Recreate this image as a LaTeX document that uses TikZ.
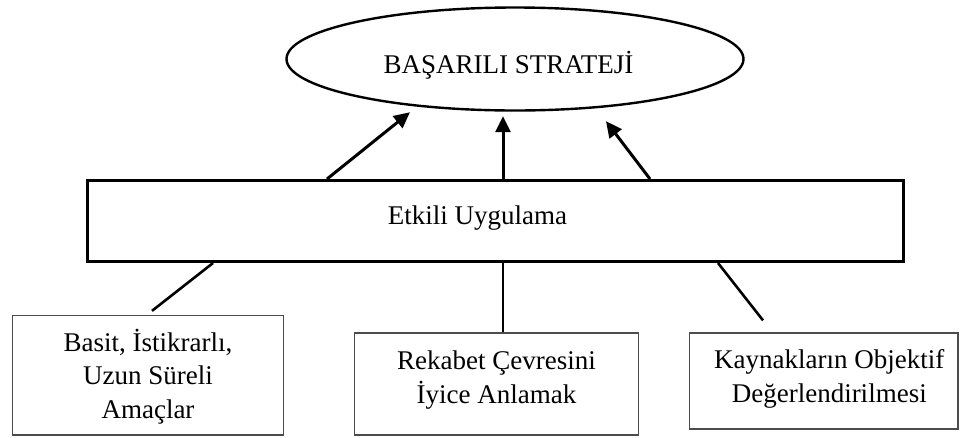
\documentclass[tikz,border=0pt]{standalone}
\usepackage{fontspec}
\setmainfont{Liberation Serif}
\usetikzlibrary{arrows.meta,shapes.geometric}
\begin{document}
\begin{tikzpicture}[x=1pt,y=-1pt,
  every node/.style={font=\fontsize{27}{33.5}\selectfont, inner sep=0pt},
  goal/.style={ellipse, draw, line width=2.4pt, minimum width=457pt, minimum height=103pt, text height=28pt, text depth=0pt},
  mainbox/.style={rectangle, draw, line width=3pt, minimum width=816pt, minimum height=81pt, text height=18pt, text depth=12pt},
  factor/.style={rectangle, draw=black!70, line width=1.3pt},
  arr/.style={line width=3pt, -{Triangle[length=16pt,width=15pt]}},
  link/.style={line width=2.6pt}]
\useasboundingbox (0,0) rectangle (960,437);

\node[goal] (goal) at (515,59) {BAŞARILI STRATEJİ\hspace*{13pt}};
\node[mainbox] (impl) at (495.5,221) {Etkili Uygulama\hspace*{36pt}};

\node[factor, minimum width=271pt, minimum height=119.5pt] (f1) at (148,375.25)
  {\raisebox{0pt}[86pt][0pt]{\begin{tabular}[b]{@{}c@{}}Basit, İstikrarlı,\\Uzun Süreli\\Amaçlar\end{tabular}}};
\node[factor, minimum width=284pt, minimum height=102pt] (f2) at (496.5,384)
  {\raisebox{0pt}[38pt][0pt]{\begin{tabular}[b]{@{}c@{}}Rekabet Çevresini\\İyice Anlamak\end{tabular}}};
\node[factor, minimum width=268.5pt, minimum height=96pt] (f3) at (823.75,381)
  {\raisebox{0pt}[42pt][0pt]{\hspace*{11pt}\begin{tabular}[b]{@{}c@{}}Kaynakların Objektif\\Değerlendirilmesi\end{tabular}}};

% arrows to the goal
\draw[arr] ([xshift=-168.5pt]impl.north) -- ([xshift=-105pt,yshift=-0.5pt]goal.south);
\draw[arr] ([xshift=7.5pt]impl.north) -- ([xshift=-12pt,yshift=-4.5pt]goal.south);
\draw[arr] ([xshift=154.5pt]impl.north) -- ([xshift=91pt,yshift=-9.5pt]goal.south);

% links from the factors
\draw[link] ([xshift=-282.5pt]impl.south) -- ([xshift=4pt,yshift=4pt]f1.north);
\draw[link] ([xshift=7.5pt]impl.south) -- ([xshift=6.5pt]f2.north);
\draw[link] ([xshift=222.5pt]impl.south) -- ([xshift=-60.75pt,yshift=12pt]f3.north);
\end{tikzpicture}
\end{document}
